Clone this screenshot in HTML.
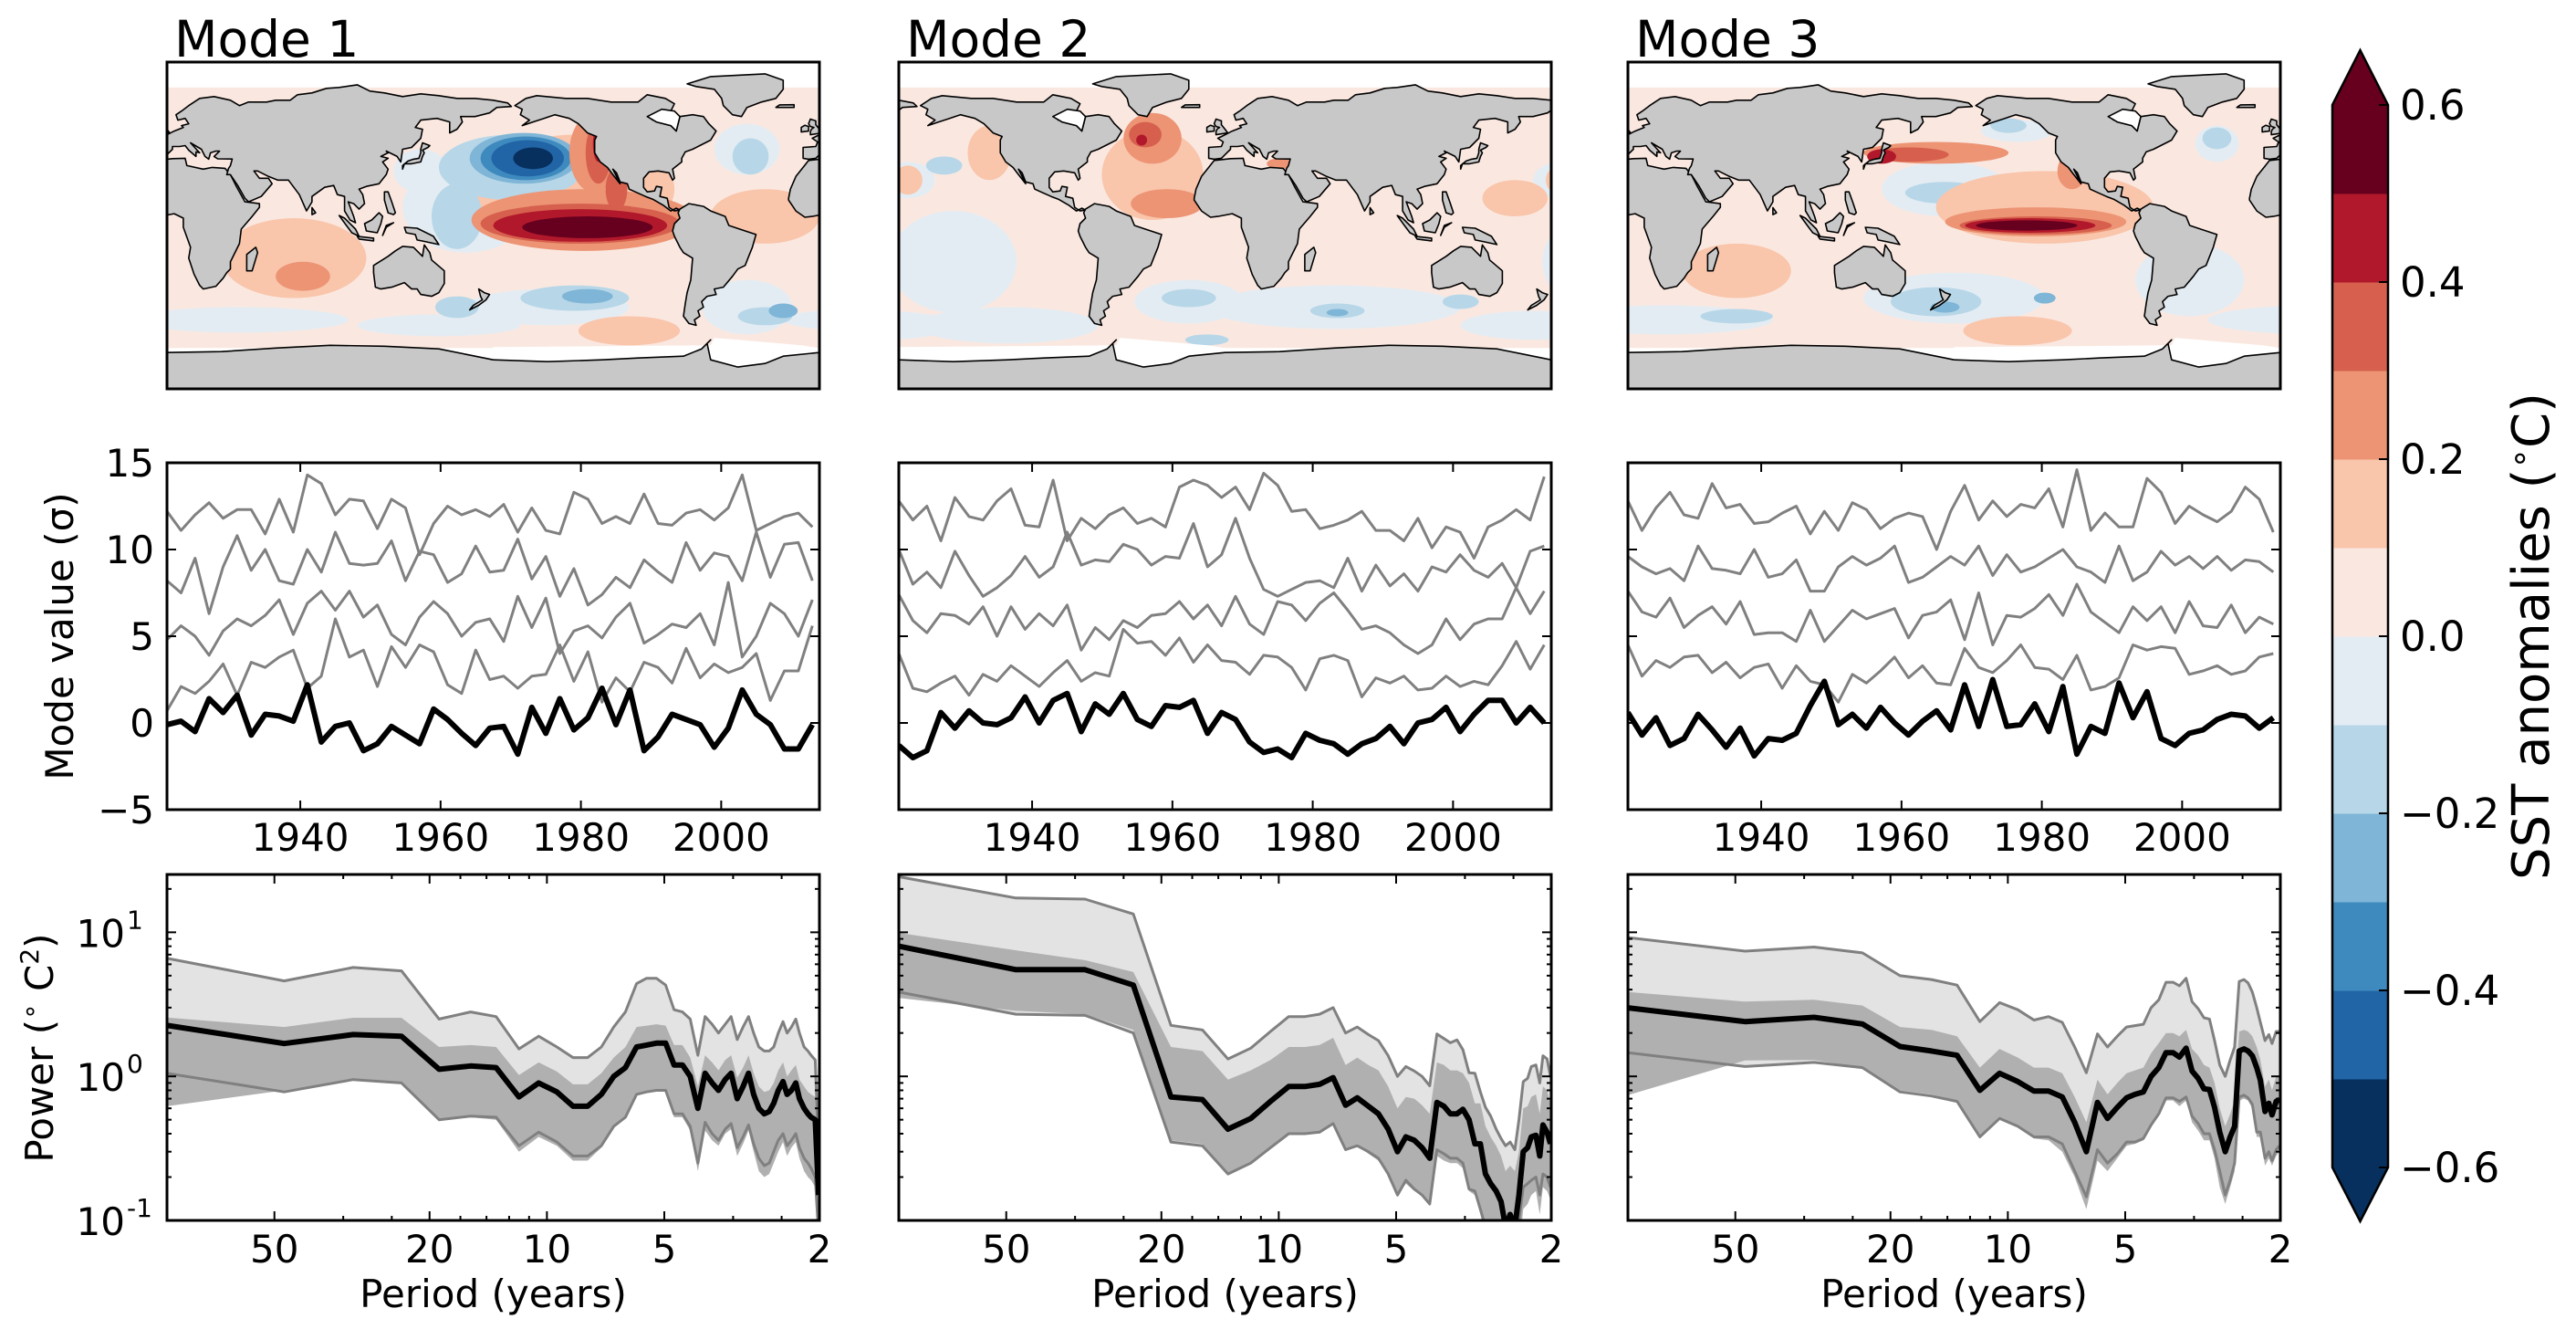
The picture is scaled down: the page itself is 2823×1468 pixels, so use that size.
<!DOCTYPE html>
<html><head><meta charset="utf-8">
<style>
html,body{margin:0;padding:0;background:#fff;}
svg{display:block;font-family:"DejaVu Sans","Liberation Sans",sans-serif;}
</style></head>
<body>
<svg id="fig" width="2823" height="1468" viewBox="0 0 2823 1468" xmlns="http://www.w3.org/2000/svg">
<rect x="0" y="0" width="2823" height="1468" fill="#fff"/>
</svg>
<script>
// ---------- data: time series (years 1921..2013, every 2 years) ----------
const years=[1921,1923,1925,1927,1929,1931,1933,1935,1937,1939,1941,1943,1945,1947,1949,1951,1953,1955,1957,1959,1961,1963,1965,1967,1969,1971,1973,1975,1977,1979,1981,1983,1985,1987,1989,1991,1993,1995,1997,1999,2001,2003,2005,2007,2009,2011,2013];
const m1Black=[-0.1,0.1,-0.5,1.4,0.6,1.6,-0.7,0.5,0.4,0.1,2.2,-1.1,-0.2,0.0,-1.6,-1.2,-0.2,-0.7,-1.2,0.8,0.2,-0.6,-1.3,-0.3,-0.2,-1.8,0.9,-0.6,1.4,-0.4,0.3,2.0,-0.1,1.9,-1.6,-0.8,0.5,0.2,-0.1,-1.4,-0.3,1.9,0.5,-0.1,-1.5,-1.5,-0.1];
const m1GrayA=[12.2,11.1,12.0,12.7,11.8,12.3,12.3,10.9,12.9,11.0,14.3,13.8,12.0,12.9,12.8,11.2,12.9,12.4,9.7,11.5,12.5,12.0,12.3,11.9,12.6,11.0,12.4,11.1,10.9,13.3,12.9,11.5,11.9,11.5,13.2,11.5,11.4,12.1,12.3,11.7,12.4,14.3,11.1,11.5,11.9,12.1,11.3];
const m1GrayB=[8.2,7.5,9.5,6.3,9.0,10.8,8.8,10.0,8.2,8.0,10.0,8.7,11.0,9.2,9.1,9.2,10.5,8.2,9.9,9.7,8.1,8.6,10.2,8.7,8.8,10.6,8.3,9.6,7.3,8.9,6.8,7.4,8.4,7.8,9.4,8.7,8.1,10.4,8.8,9.8,9.6,8.2,11.0,8.4,10.3,10.4,8.2];
const m1GrayC=[4.8,5.6,5.0,3.9,5.3,6.0,5.6,6.2,7.1,5.1,6.9,7.6,6.5,7.6,6.1,6.8,5.1,4.5,6.1,7.0,6.3,5.0,5.8,6.0,4.7,7.3,5.5,7.2,4.0,5.3,5.6,4.9,6.1,6.9,4.6,5.1,5.7,5.5,6.3,4.5,8.1,3.8,5.0,6.9,6.3,5.0,7.1];
const m1GrayD=[0.7,2.1,1.7,2.4,3.4,1.6,3.5,3.2,3.8,4.2,2.0,2.7,6.0,3.8,4.2,2.1,4.4,3.2,4.5,4.1,2.2,1.7,4.2,2.5,2.7,2.0,2.7,2.8,4.5,2.4,4.1,1.2,2.6,1.8,3.5,3.2,2.3,4.3,2.6,3.4,2.9,3.2,4.0,1.3,3.0,3.0,5.6];
const m2Black=[-1.3,-2.0,-1.6,0.6,-0.3,0.7,0.0,-0.1,0.3,1.5,0.0,1.3,1.7,-0.5,1.1,0.5,1.7,0.2,-0.2,1.0,0.9,1.3,-0.6,0.6,0.2,-1.1,-1.7,-1.5,-2.0,-0.6,-1.0,-1.2,-1.8,-1.2,-0.9,-0.2,-1.2,0.0,0.2,0.9,-0.5,0.5,1.3,1.3,0.0,0.9,0.0];
const m2GrayA=[12.8,11.7,12.5,10.5,13.0,11.9,11.7,12.8,13.5,11.4,11.3,14.0,10.5,11.8,11.2,12.0,12.4,11.5,11.8,11.3,13.6,14.0,13.7,13.0,13.6,12.3,14.4,13.7,12.2,12.3,11.2,11.4,11.7,12.2,11.1,11.1,10.5,11.8,10.1,11.3,11.0,9.5,11.3,11.7,12.3,11.7,14.2];
const m2GrayB=[10.0,8.0,8.7,7.8,9.9,8.5,7.3,7.8,8.5,9.6,8.4,9.0,11.0,9.1,9.4,9.3,10.3,10.0,9.1,9.6,9.5,11.5,9.0,9.7,11.8,9.5,7.7,7.3,7.7,8.1,8.2,7.8,9.5,7.6,9.1,7.9,8.6,7.6,9.0,8.7,9.7,8.8,8.4,9.2,7.8,9.9,10.2];
const m2GrayC=[7.4,5.9,5.2,6.3,6.2,5.7,6.7,5.0,6.7,5.4,6.3,5.6,6.8,4.2,5.5,4.8,5.9,5.5,6.2,6.3,7.0,6.0,6.8,5.6,7.3,5.7,5.1,7.0,6.8,5.9,6.9,7.5,6.5,5.4,5.6,5.2,4.5,4.0,4.5,6.0,4.8,5.7,6.0,6.0,7.8,6.3,7.6];
const m2GrayD=[4.0,2.0,1.8,2.3,2.7,1.6,2.8,2.4,3.3,2.7,2.1,2.9,3.6,2.4,2.9,2.7,5.4,4.6,4.7,3.9,4.9,3.5,4.5,3.6,3.5,2.8,3.9,3.8,3.2,1.9,3.7,3.9,3.6,1.5,2.6,2.3,2.7,1.9,2.0,2.7,2.1,2.4,2.2,3.3,4.7,3.1,4.5];
const m3Black=[0.6,-0.7,0.3,-1.3,-0.9,0.5,-0.4,-1.4,-0.3,-1.9,-0.9,-1.0,-0.6,1.0,2.4,-0.1,0.5,-0.3,0.9,0.0,-0.7,0.1,0.7,-0.4,2.2,-0.2,2.5,-0.2,-0.1,1.1,-0.5,2.1,-1.8,-0.2,-0.6,2.3,0.3,1.8,-0.9,-1.3,-0.6,-0.4,0.2,0.5,0.4,-0.3,0.3];
const m3GrayA=[12.8,11.1,12.4,13.3,12.0,11.8,13.8,12.4,12.6,11.5,11.6,12.1,12.5,10.9,12.2,11.1,12.7,12.3,11.2,11.8,12.1,11.9,10.0,12.2,13.7,11.7,12.8,11.9,12.6,12.4,13.5,11.3,14.6,11.1,12.1,11.3,11.3,14.1,13.3,11.5,12.5,12.0,11.6,12.2,13.6,12.9,11.0];
const m3GrayB=[9.6,9.0,8.6,8.9,8.2,10.2,8.9,8.8,8.6,10.0,8.4,8.6,9.4,7.6,7.6,9.0,9.6,9.1,9.5,10.2,8.1,8.4,9.0,9.6,9.1,10.2,8.5,9.7,8.7,9.0,9.5,10.0,9.0,8.7,8.1,10.2,8.2,8.7,9.9,9.1,9.6,8.9,9.6,8.8,9.4,9.3,8.7];
const m3GrayC=[7.6,6.4,6.1,7.2,5.5,6.2,6.7,5.7,7.0,5.1,5.2,5.2,4.7,6.5,4.7,5.6,6.5,6.0,6.3,6.6,4.9,6.2,6.4,7.1,4.8,7.5,4.5,6.2,6.1,6.6,7.4,6.2,8.0,6.4,5.8,5.2,6.7,5.9,6.7,5.2,7.0,5.6,5.5,6.8,5.2,6.1,5.7];
const m3GrayD=[4.5,2.7,3.6,3.2,3.8,3.9,2.9,3.5,2.6,3.2,3.4,2.0,3.3,2.4,2.2,1.2,2.8,2.3,3.0,3.8,2.6,3.3,2.3,2.2,4.3,3.2,2.9,3.6,4.5,3.2,3.1,2.5,3.9,1.9,2.1,2.6,4.5,4.2,4.4,4.3,2.8,3.0,3.3,2.8,3.0,3.8,4.0];
const tsYTicks=[-5,0,5,10,15];
const tsXTicks=[1940,1960,1980,2000];

// ---------- data: power spectra ----------
const periods=[94.3,47.2,31.4,23.6,18.9,15.7,13.5,11.8,10.5,9.43,8.57,7.86,7.25,6.74,6.29,5.89,5.55,5.24,4.96,4.72,4.49,4.29,4.10,3.93,3.77,3.63,3.49,3.37,3.25,3.14,3.04,2.95,2.86,2.77,2.69,2.62,2.55,2.48,2.42,2.36,2.30,2.25,2.19,2.14,2.10,2.05,2.01];
const p1Mean=[2.26,1.69,1.95,1.9,1.12,1.18,1.15,0.72,0.9,0.78,0.62,0.62,0.75,1.0,1.15,1.6,1.65,1.7,1.7,1.2,1.2,1.0,0.6,1.05,0.9,0.8,0.95,1.05,0.7,0.85,1.05,0.75,0.6,0.55,0.57,0.65,0.8,0.92,0.75,0.8,0.9,0.7,0.6,0.55,0.52,0.5,0.15];
const p1Upper=[6.6,4.6,5.7,5.4,2.5,2.8,2.6,1.55,1.9,1.6,1.35,1.35,1.6,2.2,2.8,4.4,4.8,4.8,4.3,2.9,2.8,2.5,1.4,2.6,2.3,2.0,2.3,2.6,1.8,2.2,2.6,2.0,1.6,1.5,1.5,1.6,2.0,2.4,2.0,2.2,2.5,2.0,1.6,1.5,1.4,1.3,0.3];
const p1Lower=[1.05,0.78,0.95,0.9,0.5,0.53,0.52,0.33,0.41,0.35,0.28,0.28,0.33,0.45,0.52,0.75,0.78,0.8,0.8,0.55,0.55,0.45,0.25,0.48,0.4,0.36,0.43,0.47,0.32,0.38,0.46,0.34,0.27,0.24,0.25,0.3,0.36,0.4,0.33,0.36,0.4,0.32,0.27,0.25,0.23,0.2,0.08];
const p1InHigh=[2.56,2.2,2.55,2.55,1.6,1.65,1.6,1.02,1.25,1.08,0.88,0.88,1.05,1.35,1.6,2.2,2.25,2.3,2.25,1.65,1.65,1.35,0.85,1.4,1.25,1.1,1.3,1.4,0.98,1.15,1.4,1.05,0.85,0.78,0.8,0.9,1.1,1.25,1.0,1.1,1.2,0.95,0.85,0.78,0.75,0.72,0.2];
const p1InLow=[0.62,0.8,0.95,0.9,0.5,0.52,0.5,0.3,0.38,0.33,0.26,0.26,0.32,0.45,0.52,0.75,0.78,0.8,0.78,0.52,0.52,0.42,0.22,0.42,0.36,0.33,0.4,0.43,0.28,0.34,0.42,0.3,0.22,0.2,0.21,0.25,0.3,0.35,0.28,0.32,0.35,0.27,0.22,0.2,0.19,0.17,0.07];
const p2Mean=[8.0,5.5,5.5,4.3,0.72,0.69,0.43,0.51,0.67,0.85,0.85,0.88,0.98,0.63,0.71,0.62,0.55,0.43,0.30,0.38,0.36,0.32,0.27,0.66,0.62,0.55,0.55,0.59,0.50,0.34,0.34,0.21,0.18,0.16,0.135,0.09,0.11,0.09,0.15,0.30,0.32,0.38,0.39,0.28,0.46,0.41,0.34];
const p2Upper=[24.3,17.3,17,13.4,2.26,2.1,1.32,1.57,2.05,2.6,2.6,2.7,3.0,2.0,2.2,1.95,1.77,1.39,1.0,1.17,1.09,1.0,0.86,1.97,1.83,1.71,1.79,1.53,1.06,1.05,0.78,0.61,0.53,0.43,0.37,0.33,0.35,0.31,0.50,0.92,0.97,1.17,1.2,0.9,1.39,1.32,1.0];
const p2Lower=[3.85,2.7,2.65,2.0,0.35,0.33,0.21,0.25,0.32,0.40,0.40,0.41,0.47,0.31,0.33,0.30,0.27,0.21,0.15,0.19,0.165,0.15,0.13,0.31,0.29,0.27,0.27,0.25,0.165,0.16,0.12,0.09,0.08,0.07,0.06,0.05,0.06,0.05,0.1,0.17,0.18,0.19,0.2,0.15,0.21,0.2,0.17];
const p2InHigh=[9.9,7.5,6.4,5.3,1.6,1.5,0.95,1.1,1.3,1.6,1.6,1.65,1.85,1.2,1.35,1.2,1.1,0.85,0.6,0.72,0.7,0.63,0.55,1.25,1.2,1.1,1.1,1.05,0.9,0.65,0.65,0.45,0.38,0.33,0.28,0.22,0.24,0.22,0.3,0.6,0.62,0.72,0.75,0.55,0.85,0.8,0.65];
const p2InLow=[3.5,2.85,2.7,2.1,0.36,0.34,0.21,0.25,0.32,0.40,0.40,0.40,0.46,0.31,0.33,0.29,0.26,0.21,0.15,0.18,0.16,0.15,0.13,0.28,0.26,0.25,0.25,0.23,0.16,0.15,0.11,0.08,0.07,0.06,0.05,0.04,0.05,0.04,0.06,0.12,0.13,0.15,0.16,0.11,0.17,0.16,0.14];
const p3Mean=[2.99,2.4,2.57,2.31,1.61,1.5,1.4,0.80,1.05,0.92,0.79,0.79,0.72,0.48,0.30,0.66,0.51,0.61,0.71,0.75,0.78,1.0,1.15,1.46,1.46,1.36,1.57,1.09,0.97,0.82,0.81,0.61,0.41,0.30,0.38,0.45,1.5,1.55,1.5,1.39,1.15,0.94,0.57,0.65,0.54,0.67,0.69];
const p3Upper=[9.2,7.4,7.9,7.2,5.0,4.7,4.3,2.4,3.25,2.9,2.46,2.6,2.37,1.6,1.06,1.97,1.6,1.9,2.2,2.25,2.3,3.0,3.4,4.5,4.5,4.25,4.8,3.3,2.95,2.55,2.5,1.77,1.2,1.0,1.3,1.6,4.55,4.7,4.45,3.85,3.0,2.37,1.77,1.95,1.69,2.05,2.05];
const p3Lower=[1.46,1.17,1.25,1.15,0.78,0.73,0.67,0.38,0.51,0.45,0.38,0.38,0.34,0.22,0.146,0.31,0.25,0.29,0.35,0.35,0.37,0.46,0.55,0.71,0.71,0.67,0.72,0.53,0.47,0.40,0.40,0.31,0.22,0.15,0.19,0.25,0.72,0.74,0.71,0.64,0.41,0.41,0.27,0.30,0.26,0.31,0.33];
const p3InHigh=[3.85,3.3,3.4,3.1,2.2,2.1,1.9,1.15,1.55,1.35,1.15,1.15,1.05,0.72,0.48,0.95,0.75,0.9,1.05,1.1,1.15,1.45,1.7,2.0,2.0,1.9,2.1,1.55,1.4,1.2,1.15,0.9,0.6,0.45,0.55,0.68,2.05,2.1,2.05,1.9,1.6,1.3,0.85,0.95,0.8,1.0,1.0];
const p3InLow=[0.74,1.29,1.3,1.15,0.8,0.75,0.68,0.38,0.5,0.44,0.37,0.36,0.3,0.2,0.12,0.26,0.22,0.27,0.33,0.34,0.36,0.45,0.55,0.68,0.68,0.62,0.68,0.48,0.42,0.36,0.36,0.27,0.17,0.13,0.17,0.22,0.68,0.7,0.68,0.6,0.38,0.38,0.24,0.27,0.24,0.28,0.3];
const pwXTicks=[50,20,10,5,2];
const pwXMinor=[33.3,25,16.67,14.29,12.5,11.11,3.33,2.5];
const pwYTicks=[0.1,1,10];
const pwYMinor=[0.2,0.3,0.4,0.5,0.6,0.7,0.8,0.9,2,3,4,5,6,7,8,9,20];
const cbLevels=[-0.6,-0.5,-0.4,-0.3,-0.2,-0.1,0,0.1,0.2,0.3,0.4,0.5,0.6];
const cbColors=["#08305e","#2165a6","#3e8abf","#7fb5d6","#b7d7e8","#e4ecf3","#fae8e0","#f9c5ab","#ec9474","#d6604d","#b2182b","#67001f"];
const cbTicks=[-0.6,-0.4,-0.2,0.0,0.2,0.4,0.6];

// ---------- geometry ----------
const NS="http://www.w3.org/2000/svg";
const svg=document.getElementById('fig');
const COLS=[183,985,1784], W=715;
const MAP_T=68, MAP_H=358;
const TS_T=507, TS_B=887;
const PW_T=958, PW_B=1337;
function mk(tag,parent){const e=document.createElementNS(NS,tag);(parent||svg).appendChild(e);return e;}
function at(e,o){for(const k in o)e.setAttribute(k,o[k]);return e;}
function txt(parent,x,y,s,size,anchor){const t=mk('text',parent);at(t,{x:x,y:y,'font-size':size,'text-anchor':anchor||'start',fill:'#000'});t.textContent=s;return t;}

// ---------- maps ----------
const LAND=[
[[-168,66],[-162,70],[-156,71.5],[-140,70],[-128,70],[-115,68],[-100,68],[-95,72],[-85,70],[-80,67],[-82,63],[-92,58],[-94,60],[-90,57],[-82,55],[-79,52],[-77,60],[-70,61],[-64,60],[-61,56],[-57,52],[-60,47],[-66,44],[-70,42],[-74,40.5],[-76,37],[-76,35],[-81,31],[-80,26],[-81,25],[-83,29],[-89,30],[-94,29.5],[-97,26],[-97,21],[-95,18.5],[-91,19],[-90,21.5],[-87,21],[-88,16],[-84,15],[-83,10],[-80,8],[-77,8.5],[-79,9.5],[-82,8],[-86,11],[-92,14.5],[-96,16],[-105,20],[-106,23],[-110,24],[-112,29],[-114,31],[-112,27],[-110,23],[-114,28],[-117,32],[-121,35],[-124,40],[-124,47],[-123,49],[-128,51],[-133,56],[-138,59],[-146,61],[-152,59],[-158,57],[-164,55],[-160,58],[-165,61],[-164,64],[-168,66]],
[[-77,9],[-72,12],[-64,10.5],[-60,8],[-52,5],[-50,0],[-44,-2],[-35,-5],[-37,-12],[-39,-17],[-41,-22],[-45,-24],[-48,-28],[-53,-34],[-58,-35],[-57,-38],[-62,-39],[-65,-42],[-64,-45],[-67,-47],[-66,-50],[-69,-52],[-68,-55],[-72,-54],[-75,-50],[-74,-43],[-73,-37],[-71,-30],[-70,-18],[-75,-15],[-77,-12],[-80,-6],[-81,-3],[-80,1],[-77,4],[-78,7],[-77,9]],
[[-17,15],[-16,20],[-13,27],[-9,32],[-6,35.8],[3,36.8],[10,37],[11,33],[20,31],[25,32],[32,31.5],[35,28],[38,22],[43,13],[51,12],[51,10],[47,5],[41,-2],[40,-10],[35,-20],[35,-24],[33,-26],[31,-29],[27,-33.5],[20,-35],[18,-33],[15,-27],[12,-18],[13,-12],[9,-1],[9,4],[4,6.5],[-4,5],[-8,4.5],[-13,8],[-17,14],[-17,15]],
[[44,-25],[47,-25],[50,-15],[49,-12],[44,-16],[44,-25]],
[[-9,43],[-9,37],[-6,36.5],[-2,37],[0,39],[3,42],[3,43.5],[7,43.5],[10,44],[12,41.5],[16,38],[16,40.5],[18,40],[13,45.5],[19,42],[21,38],[23,36.5],[24,40],[27,41],[29,41],[26,38],[28,36.7],[36,36.6],[35,33],[34,31.5],[33,28],[35,28],[39,22],[43,15],[45,13],[52,16],[58,23],[56,26],[51,26],[48,30],[50,30],[56,27],[61,25],[67,25],[70,21],[73,17],[77,8],[80,13],[80,16],[87,21],[92,22],[94,17],[98,16],[98,8],[101,3],[104,1.5],[103,5],[100,13],[103,12],[106,9],[109,12],[108,17],[106,20],[110,21.5],[117,23],[121,28],[122,31],[119,35],[122,37],[118,38],[122,40],[121,41],[127,38],[129,35],[130,42],[135,43],[140,48],[141,53],[137,54],[140,58],[149,59],[156,57],[156,51],[160,53],[163,57],[162,60],[170,60],[178,62],[182,65],[190,65.5],[188,67.5],[180,69],[170,70],[160,70],[150,71.5],[140,72.5],[130,71],[120,73],[112,74],[105,77.5],[95,76],[88,75.5],[80,73],[72,72],[68,69],[60,69],[55,68],[45,68],[40,66],[35,69],[26,71],[18,70],[12,66],[8,63],[5,61],[6,58],[10,59],[12,56],[8,55],[9,54],[4,52],[2,51],[-1,49.5],[-4,48],[-1,46],[-2,43.5],[-9,43]],
[[-5,50],[1.5,51],[0,53],[-2,55.5],[-2,57.6],[-5,58.6],[-6,56],[-5,54.5],[-3,54],[-4.5,53],[-5,51.5],[-5,50]],
[[-10,51.5],[-6,52],[-6,54.5],[-8,55.2],[-10,54],[-10,51.5]],
[[-24,65],[-14,65],[-14,66.5],[-22,66.4],[-24,65]],
[[-73,78],[-60,82],[-30,83.5],[-20,80],[-20,75],[-24,70],[-32,68],[-40,65],[-43,60],[-48,61],[-53,66],[-54,70],[-58,75],[-68,76.5],[-73,78]],
[[130,31],[131,34],[135,34],[140,35],[141,38],[142,40],[141,41.5],[144,43],[145,44],[141,45.5],[140,42],[140,40],[139,37],[136,36.5],[133,35.5],[130,33],[130,31]],
[[95,5.5],[98,4],[104,-2],[106,-6],[102,-4],[99,0],[95,5.5]],
[[109,1],[110,-3],[116,-4],[118,1],[119,5],[117,7],[113,3],[109,1]],
[[105,-6],[114,-7],[114,-8.5],[106,-7.5],[105,-6]],
[[131,-1],[138,-1.5],[147,-6],[150,-10.5],[143,-9],[138,-8],[137,-5],[132,-4],[131,-1]],
[[119,-5.5],[121,-1],[125,1.5],[121,0],[119,-5.5]],
[[120,18.5],[122,18.5],[124,13],[126,7],[125,6],[122,7],[120,14],[120,18.5]],
[[114,-22],[114,-26],[115,-34],[118,-35],[124,-34],[131,-31.5],[135,-35],[138,-35],[140,-38],[146,-39],[150,-37],[153,-32],[153,-25],[146,-19],[145,-15],[142,-10.7],[141,-17],[136,-12],[130,-11.5],[126,-14],[122,-17],[114,-22]],
[[172,-35],[175,-37],[178,-38],[176,-41],[172,-44],[167,-46.5],[169,-44],[174,-41],[173,-39],[172,-35]],
[[80,6],[82,7],[80,9.8],[80,6]]
];
const ANTARCTIC=[[-180,-74],[-150,-75],[-120,-74],[-100,-73],[-75,-72],[-65,-68],[-60,-63],[-62,-65],[-60,-74],[-45,-78],[-30,-76],[-20,-72],[0,-70],[30,-69.5],[60,-67.5],[90,-66],[120,-66.5],[150,-68],[165,-71],[180,-74]];
const ICE=[[-180,-67],[-60,-66],[-58,-62],[-45,-63],[-10,-66],[0,-67.5],[180,-67.5],[180,-90],[-180,-90]];
const HUDSON=[[-95,60],[-87,64],[-80,63],[-77,60],[-79,52],[-82,55],[-90,57],[-95,60]];
const C={b5:"#08305e",b4:"#2165a6",b3:"#3e8abf",b2:"#7fb5d6",b1:"#b7d7e8",b0:"#e4ecf3",r0:"#fae8e0",r1:"#f9c5ab",r2:"#ec9474",r3:"#d6604d",r4:"#b2182b",r5:"#67001f"};
const FIELDS=[
 {lon0:0,base:"r0",blobs:[
  ["b0",210,-45,45,10],["b0",150,-55,45,6],["b0",40,-52,60,7],["b0",320,-45,25,15],["b0",320,42,18,14],["b0",165,10,35,25],["b0",140,30,15,12],
  ["r1",70,-18,40,22],["r1",330,5,30,15],["r1",255,-58,28,8],["r1",225,20,55,30],
  ["b1",190,32,40,18],["b1",160,5,14,18],["b1",225,-40,30,7],["b1",322,38,10,10],["b1",160,-45,12,6],["b1",330,-50,15,5],
  ["b2",197,37,30,14],["b2",232,-39,14,4],["b2",340,-47,8,4],
  ["b3",198,37,25,12],["b4",199,37,20,10],["b5",202,37,11,6],
  ["r2",75,-28,15,8],["r2",230,3,62,17],["r2",236,40,14,22],
  ["r3",228,1,55,11],["r3",238,40,7,17],["r3",248,20,6,12],
  ["r4",228,0,48,9],["r4",238,45,3,10],
  ["r5",232,-1,36,6]]},
 {lon0:-180,base:"r0",blobs:[
  ["b0",-150,-20,35,28],["b0",60,-45,70,12],["b0",-120,-55,50,10],["b0",-20,-42,30,12],["b0",170,-55,40,8],["b0",-175,25,15,10],
  ["b1",-155,33,10,5],["b1",62,-47,15,4],["b1",-20,-40,15,5],["b1",-10,-63,12,3],["b1",130,-42,10,4],
  ["b2",62,-48,6,2],
  ["r1",-40,28,28,25],["r1",-130,40,12,15],["r1",160,15,18,10],["r1",-175,25,8,8],
  ["r2",-40,48,16,14],["r2",-32,12,20,8],["r2",30,34,7,3],
  ["r3",-44,50,9,7],["r4",-46,47,3,3]]},
 {lon0:0,base:"r0",blobs:[
  ["b0",180,-40,50,14],["b0",310,-30,30,20],["b0",20,-52,60,8],["b0",175,20,35,15],["b0",215,52,20,6],["b0",325,45,12,10],
  ["b1",170,-42,25,8],["b1",175,18,22,6],["b1",325,48,8,6],["b1",60,-50,20,4],["b1",210,55,10,4],
  ["b2",175,-45,8,3],["b2",230,-40,6,3],
  ["r1",215,-58,30,8],["r1",60,-25,30,15],["r1",230,10,60,20],
  ["r2",170,40,40,6],["r2",225,2,50,8],["r2",245,30,8,10],
  ["r3",155,39,22,4],["r3",225,0,42,5],
  ["r4",140,38,8,4],["r4",222,0,36,4],
  ["r5",220,0,28,2.8]]}
];
function drawMap(ci){
  const L=COLS[ci], F=FIELDS[ci];
  const g=mk('g');
  
  
  const cp=mk('clipPath',g);at(cp,{id:'mapclip'+ci});
  at(mk('rect',cp),{x:L,y:MAP_T,width:W,height:MAP_H});
  const gi=mk('g',g);at(gi,{'clip-path':'url(#mapclip'+ci+')'});
  const px=(lon,off)=>L+(lon-F.lon0+off)/360*W;
  const py=lat=>MAP_T+(90-lat)/180*MAP_H;
  at(mk('rect',gi),{x:L,y:MAP_T,width:W,height:MAP_H,fill:C[F.base]});
  for(const b of F.blobs){for(const off of [-360,0,360]){
    at(mk('ellipse',gi),{cx:px(b[1],off),cy:py(b[2]),rx:b[3]/360*W,ry:b[4]/180*MAP_H,fill:C[b[0]]});
  }}
  at(mk('rect',gi),{x:L,y:MAP_T,width:W,height:py(76)-MAP_T,fill:'#fff'});
  const ptsStr=(pts,off)=>pts.map(p=>px(p[0],off).toFixed(1)+','+py(p[1]).toFixed(1)).join(' ');
  const poly=(pts,fill,stroke)=>{for(const off of [-360,0,360]){
    at(mk('polygon',gi),{points:ptsStr(pts,off),fill:fill,stroke:stroke,'stroke-width':stroke==='none'?0:1.6,'stroke-linejoin':'round'});}};
  poly(ICE,'#fff','none');
  const ant=ANTARCTIC.concat([[180,-90],[-180,-90]]);
  poly(ant,'#c8c8c8','none');
  for(const off of [-360,0,360]){
    at(mk('polyline',gi),{points:ptsStr(ANTARCTIC,off),fill:'none',stroke:'#000','stroke-width':1.6,'stroke-linejoin':'round'});
  }
  for(const p of LAND) poly(p,'#c8c8c8','#000');
  poly(HUDSON,'#fff','#000');
  at(mk('rect',g),{x:L,y:MAP_T,width:W,height:MAP_H,fill:'none',stroke:'#000','stroke-width':3});
  const t=txt(svg,L+8,62,'Mode '+(ci+1),55);
  
  
}
[0,1,2].forEach(drawMap);

// ---------- time series ----------
const TS=[[m1GrayA,m1GrayB,m1GrayC,m1GrayD,m1Black],[m2GrayA,m2GrayB,m2GrayC,m2GrayD,m2Black],[m3GrayA,m3GrayB,m3GrayC,m3GrayD,m3Black]];
function drawTS(ci){
  const L=COLS[ci];
  const xs=y=>L+(y-1921)/(2014-1921)*W;
  const ys=v=>TS_B-(v+5)/20*(TS_B-TS_T);
  const g=mk('g');
  
  
  const cp=mk('clipPath',g);at(cp,{id:'tsclip'+ci});
  at(mk('rect',cp),{x:L,y:TS_T,width:W,height:TS_B-TS_T});
  const gi=mk('g',g);at(gi,{'clip-path':'url(#tsclip'+ci+')'});
  TS[ci].forEach((s,si)=>{
    const black=si===4;
    const d=s.map((v,i)=>(i?'L':'M')+xs(years[i]).toFixed(1)+','+ys(v).toFixed(1)).join('');
    const p=mk('path',gi);at(p,{d:d,fill:'none',stroke:black?'#000':'#808080','stroke-width':black?6:3,'stroke-linejoin':'round'});
    
    
  });
  for(const t of tsXTicks){const x=xs(t);
    at(mk('line',g),{x1:x,x2:x,y1:TS_B,y2:TS_B-10,stroke:'#000','stroke-width':2});
    at(mk('line',g),{x1:x,x2:x,y1:TS_T,y2:TS_T+10,stroke:'#000','stroke-width':2});
    const lb=txt(g,x,932,String(t),42,'middle');
    
    
  }
  for(const t of tsYTicks){const y=ys(t);
    at(mk('line',g),{x1:L,x2:L+10,y1:y,y2:y,stroke:'#000','stroke-width':2});
    at(mk('line',g),{x1:L+W,x2:L+W-10,y1:y,y2:y,stroke:'#000','stroke-width':2});
    if(ci===0){const lb=txt(g,169,y+15,(t<0?'\u2212':'')+Math.abs(t),42,'end');
      
      }
  }
  at(mk('rect',g),{x:L,y:TS_T,width:W,height:TS_B-TS_T,fill:'none',stroke:'#000','stroke-width':3});
}
[0,1,2].forEach(drawTS);

// ---------- power spectra ----------
const PW=[[p1Mean,p1Upper,p1Lower,p1InHigh,p1InLow],[p2Mean,p2Upper,p2Lower,p2InHigh,p2InLow],[p3Mean,p3Upper,p3Lower,p3InHigh,p3InLow]];
const PMAX=94.3, PMIN=2, VTOP=25.2;
function drawPW(ci){
  const L=COLS[ci];
  const xs=p=>L+(Math.log10(PMAX)-Math.log10(p))/(Math.log10(PMAX)-Math.log10(PMIN))*W;
  const ys=v=>PW_B-(Math.log10(v)+1)/(Math.log10(VTOP)+1)*(PW_B-PW_T);
  const [mean,up,lo,ih,il]=PW[ci];
  const g=mk('g');
  
  
  const cp=mk('clipPath',g);at(cp,{id:'pwclip'+ci});
  at(mk('rect',cp),{x:L,y:PW_T,width:W,height:PW_B-PW_T});
  const gi=mk('g',g);at(gi,{'clip-path':'url(#pwclip'+ci+')'});
  const line=a=>a.map((v,i)=>(i?'L':'M')+xs(periods[i]).toFixed(1)+','+ys(v).toFixed(1)).join('');
  const band=(a,b)=>line(a)+b.map((v,i)=>i).reverse().map(i=>'L'+xs(periods[i]).toFixed(1)+','+ys(b[i]).toFixed(1)).join('')+'Z';
  const lf=mk('path',gi);at(lf,{d:band(up,lo),fill:'#e3e3e3'});
  
  
  const df=mk('path',gi);at(df,{d:band(ih,il),fill:'#b0b0b0'});
  
  
  for(const a of [up,lo]){const p=mk('path',gi);at(p,{d:line(a),fill:'none',stroke:'#808080','stroke-width':3,'stroke-linejoin':'round'});
    
    }
  const m=mk('path',gi);at(m,{d:line(mean),fill:'none',stroke:'#000','stroke-width':6,'stroke-linejoin':'round'});
  
  
  const tick=(x1,y1,x2,y2)=>at(mk('line',g),{x1:x1,y1:y1,x2:x2,y2:y2,stroke:'#000','stroke-width':2});
  for(const t of pwXTicks){const x=xs(t);
    tick(x,PW_B,x,PW_B-10);tick(x,PW_T,x,PW_T+10);
    const lb=txt(g,x,1383,String(t),42,'middle');
    
    }
  for(const t of pwXMinor){const x=xs(t);tick(x,PW_B,x,PW_B-5);tick(x,PW_T,x,PW_T+5);}
  for(const t of pwYTicks){const y=ys(t);
    tick(L,y,L+10,y);tick(L+W,y,L+W-10,y);
    if(ci===0){const lb=txt(g,137,y+16,'10',42,'end');
      
      
      const e=txt(g,139,y-4,String(Math.round(Math.log10(t))),28,'start');
      
      }
  }
  for(const t of pwYMinor){const y=ys(t);if(y<PW_T)continue;tick(L,y,L+5,y);tick(L+W,y,L+W-5,y);}
  at(mk('rect',g),{x:L,y:PW_T,width:W,height:PW_B-PW_T,fill:'none',stroke:'#000','stroke-width':3});
  const xl=txt(g,L+W/2,1432,'Period (years)',42,'middle');
  
  
}
[0,1,2].forEach(drawPW);

// axis titles
const yl1=txt(svg,0,0,'Mode value (\u03c3)',42,'middle');
at(yl1,{transform:'translate(80,697) rotate(-90)'});


const yl2=txt(svg,0,0,'',42,'middle');
at(yl2,{transform:'translate(58,1148) rotate(-90)'});
yl2.innerHTML='Power (<tspan font-size="28" dy="-16">\u2218</tspan><tspan dy="16"> C</tspan><tspan font-size="28" dy="-16">2</tspan><tspan dy="16">)</tspan>';



// ---------- colorbar ----------
const CB_X=2556, CB_W=61, CB_T=115, CB_B=1279;
const cby=v=>CB_B-(v+0.6)/1.2*(CB_B-CB_T);
const cg=mk('g');


cbColors.forEach((c,i)=>{
  const r=mk('rect',cg);at(r,{x:CB_X,y:cby(cbLevels[i+1]),width:CB_W,height:cby(cbLevels[i])-cby(cbLevels[i+1])+0.5,fill:c});
  
  
});
const tipT=mk('polygon',cg);at(tipT,{points:`${CB_X},${CB_T} ${CB_X+CB_W/2},55 ${CB_X+CB_W},${CB_T}`,fill:'#67001f'});


const tipB=mk('polygon',cg);at(tipB,{points:`${CB_X},${CB_B} ${CB_X+CB_W/2},1338 ${CB_X+CB_W},${CB_B}`,fill:'#08305e'});


at(mk('polygon',cg),{points:`${CB_X},${CB_T} ${CB_X+CB_W/2},55 ${CB_X+CB_W},${CB_T} ${CB_X+CB_W},${CB_B} ${CB_X+CB_W/2},1338 ${CB_X},${CB_B}`,fill:'none',stroke:'#000','stroke-width':2.5});
for(const t of cbTicks){const y=cby(t);
  at(mk('line',cg),{x1:CB_X+CB_W-10,x2:CB_X+CB_W,y1:y,y2:y,stroke:'#000','stroke-width':2});
  const lb=txt(cg,2630,y+16,(t<0?'\u2212':'')+Math.abs(t).toFixed(1),45,'start');
  
  
}
const cl=txt(svg,0,0,'',56,'middle');
at(cl,{transform:'translate(2793,697) rotate(-90)'});
cl.innerHTML='SST anomalies (<tspan font-size="36" dy="-20">\u2218</tspan><tspan dy="20">C)</tspan>';


</script>
</body></html>
